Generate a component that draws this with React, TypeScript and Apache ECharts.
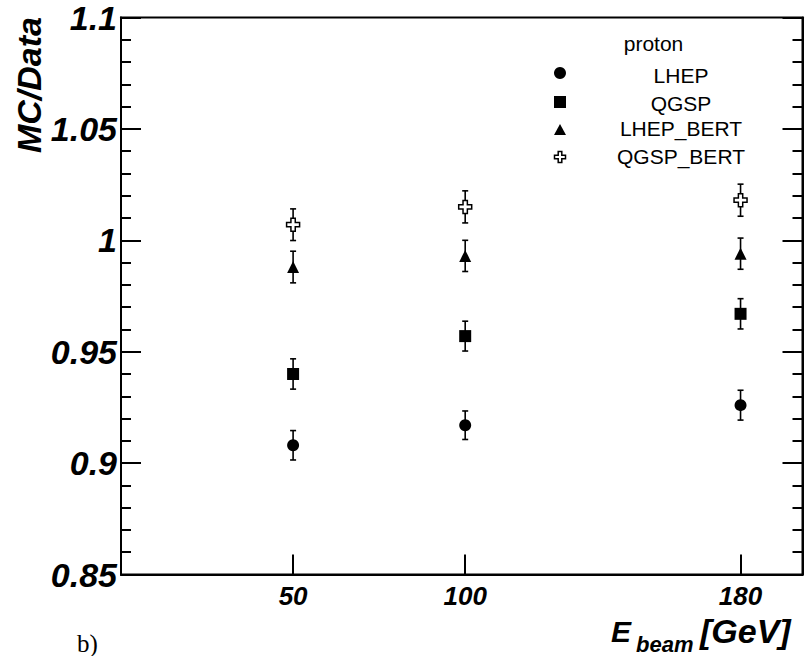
import React, { useEffect, useRef } from "react";
import * as echarts from "echarts";

const energies = [50, 100, 180];
const seriesNames = ["LHEP", "QGSP", "LHEP_BERT", "QGSP_BERT"];
const lhepVals = [0.908, 0.917, 0.926];
const lhepErrs = [0.0066, 0.0064, 0.0067];
const qgspVals = [0.94, 0.957, 0.967];
const qgspErrs = [0.0068, 0.0067, 0.0068];
const lhepBertVals = [0.988, 0.993, 0.994];
const lhepBertErrs = [0.0071, 0.007, 0.007];
const qgspBertVals = [1.007, 1.015, 1.018];
const qgspBertErrs = [0.0071, 0.0072, 0.0072];
const xTickValues = [50, 100, 180];
const yMin = 0.85;
const yMax = 1.1;
const yStep = 0.05;
const xMin = 0;
const xMax = 198;
const legendTitle = "proton";

const CROSS_PATH = "path://M-2,-6H2V-2H6V2H2V6H-2V2H-6V-2H-2Z";
const FONT = '"Liberation Sans", Arial, Helvetica, sans-serif';

export default function App() {
  const ref = useRef<HTMLDivElement>(null);
  useEffect(() => {
    if (!ref.current) return;
    const chart = echarts.init(ref.current, undefined, { renderer: "svg" });
    const allVals = [lhepVals, qgspVals, lhepBertVals, qgspBertVals];
    const allErrs = [lhepErrs, qgspErrs, lhepBertErrs, qgspBertErrs];
    const symbols = ["circle", "rect", "triangle", CROSS_PATH];
    const sizes = [12, 12, 12, 13];
    const fills = ["#000", "#000", "#000", "#fff"];

    const errSeries = allVals.map((vals, i) => ({
      type: "custom",
      name: seriesNames[i] + " err",
      z: 2,
      silent: true,
      encode: { x: 0, y: 1 },
      data: energies.map((e, j) => [e, vals[j], allErrs[i][j]]),
      renderItem: (params: any, api: any) => {
        const x = api.value(0);
        const y = api.value(1);
        const err = api.value(2);
        const top = api.coord([x, y + err]);
        const bot = api.coord([x, y - err]);
        const cw = 3;
        const style = { stroke: "#000", lineWidth: 1.6 };
        return {
          type: "group",
          children: [
            { type: "line", shape: { x1: top[0], y1: top[1], x2: bot[0], y2: bot[1] }, style },
            { type: "line", shape: { x1: top[0] - cw, y1: top[1], x2: top[0] + cw, y2: top[1] }, style },
            { type: "line", shape: { x1: bot[0] - cw, y1: bot[1], x2: bot[0] + cw, y2: bot[1] }, style },
          ],
        };
      },
    }));

    const markerSeries = allVals.map((vals, i) => ({
      type: "scatter",
      name: seriesNames[i],
      z: 3,
      symbol: symbols[i],
      symbolSize: sizes[i],
      itemStyle: { color: fills[i], borderColor: "#000", borderWidth: i === 3 ? 1.5 : 0, opacity: 1 },
      data: energies.map((e, j) => [e, vals[j]]),
    }));

    // legend graphics
    const lx = 560;
    const ly = [73, 102, 130, 157];
    const textY = [75, 103, 128.5, 156.5];
    const a = 1.8;
    const L = 5.5;
    const crossPts = [
      [-a, -L], [a, -L], [a, -a], [L, -a], [L, a], [a, a], [a, L], [-a, L], [-a, a], [-L, a], [-L, -a], [-a, -a],
    ].map((p) => [lx + p[0], ly[3] + p[1]]);
    const legendText = seriesNames.map((n, i) => ({
      type: "text",
      x: 681,
      y: textY[i],
      style: { text: n, fontSize: 21, fontFamily: FONT, fill: "#000", align: "center", verticalAlign: "middle" },
    }));

    const option: any = {
      animation: false,
      backgroundColor: "#fff",
      grid: {
        left: 121,
        top: 17.5,
        right: 2.5,
        bottom: 81.5,
        show: true,
        borderColor: "#000",
        borderWidth: 2,
        containLabel: false,
        outerBoundsMode: "none",
      },
      xAxis: {
        type: "value",
        min: xMin,
        max: xMax,
        axisLine: { show: true, onZero: false, lineStyle: { color: "#000", width: 2 } },
        axisTick: { show: true, inside: true, length: 20, customValues: xTickValues, lineStyle: { color: "#000", width: 2 } },
        axisLabel: {
          customValues: xTickValues,
          margin: 8,
          fontSize: 26,
          fontStyle: "italic",
          fontWeight: "bold",
          fontFamily: FONT,
          color: "#000",
        },
        splitLine: { show: false },
      },
      yAxis: [
        {
          type: "value",
          min: yMin,
          max: yMax,
          interval: yStep,
          axisLine: { show: true, onZero: false, lineStyle: { color: "#000", width: 2 } },
          axisTick: { show: true, inside: true, length: 20, lineStyle: { color: "#000", width: 2 } },
          minorTick: { show: true, splitNumber: 5, length: 10, lineStyle: { color: "#000", width: 2 } },
          axisLabel: {
            margin: 4,
            fontSize: 34,
            fontStyle: "italic",
            fontWeight: "bold",
            fontFamily: FONT,
            color: "#000",
            padding: [7, 0, 0, 0],
            formatter: (v: number) => String(parseFloat(v.toFixed(2))),
          },
          splitLine: { show: false },
          minorSplitLine: { show: false },
        },
        {
          type: "value",
          position: "right",
          min: yMin,
          max: yMax,
          interval: yStep,
          axisLine: { show: true, onZero: false, lineStyle: { color: "#000", width: 2 } },
          axisTick: { show: true, inside: true, length: 20, lineStyle: { color: "#000", width: 2 } },
          minorTick: { show: true, splitNumber: 5, length: 10, lineStyle: { color: "#000", width: 2 } },
          axisLabel: { show: false },
          splitLine: { show: false },
          minorSplitLine: { show: false },
        },
      ],
      series: [...errSeries, ...markerSeries],
      graphic: [
        {
          type: "text",
          x: 29,
          y: 85,
          rotation: Math.PI / 2,
          style: {
            text: "MC/Data",
            fontSize: 34,
            fontStyle: "italic",
            fontWeight: "bold",
            fontFamily: FONT,
            fill: "#000",
            align: "center",
            verticalAlign: "middle",
          },
        },
        {
          type: "text",
          x: 611,
          y: 631,
          style: { text: "E", fontSize: 30, fontStyle: "italic", fontWeight: "bold", fontFamily: FONT, fill: "#000", align: "left", verticalAlign: "middle" },
        },
        {
          type: "text",
          x: 636,
          y: 644,
          style: { text: "beam", fontSize: 22, fontStyle: "italic", fontWeight: "bold", fontFamily: FONT, fill: "#000", align: "left", verticalAlign: "middle" },
        },
        {
          type: "text",
          x: 700,
          y: 631,
          style: { text: "[GeV]", fontSize: 34, fontStyle: "italic", fontWeight: "bold", fontFamily: FONT, fill: "#000", align: "left", verticalAlign: "middle" },
        },
        {
          type: "text",
          x: 77,
          y: 643,
          style: { text: "b)", fontSize: 25, fontFamily: '"Liberation Serif", "DejaVu Serif", serif', fill: "#000", align: "left", verticalAlign: "middle" },
        },
        {
          type: "text",
          x: 653.5,
          y: 43,
          style: { text: legendTitle, fontSize: 21, fontFamily: FONT, fill: "#000", align: "center", verticalAlign: "middle" },
        },
        { type: "circle", shape: { cx: lx, cy: ly[0], r: 6 }, style: { fill: "#000" } },
        { type: "rect", shape: { x: lx - 6, y: ly[1] - 6, width: 12, height: 12 }, style: { fill: "#000" } },
        { type: "polygon", shape: { points: [[lx, ly[2] - 6], [lx + 6, ly[2] + 5], [lx - 6, ly[2] + 5]] }, style: { fill: "#000" } },
        { type: "polygon", shape: { points: crossPts }, style: { fill: "#fff", stroke: "#000", lineWidth: 1.5 } },
        ...legendText,
      ],
    };
    chart.setOption(option);
    return () => chart.dispose();
  }, []);
  return <div ref={ref} style={{ position: "absolute", left: 0, top: 0, width: 805, height: 656 }} />;
}
